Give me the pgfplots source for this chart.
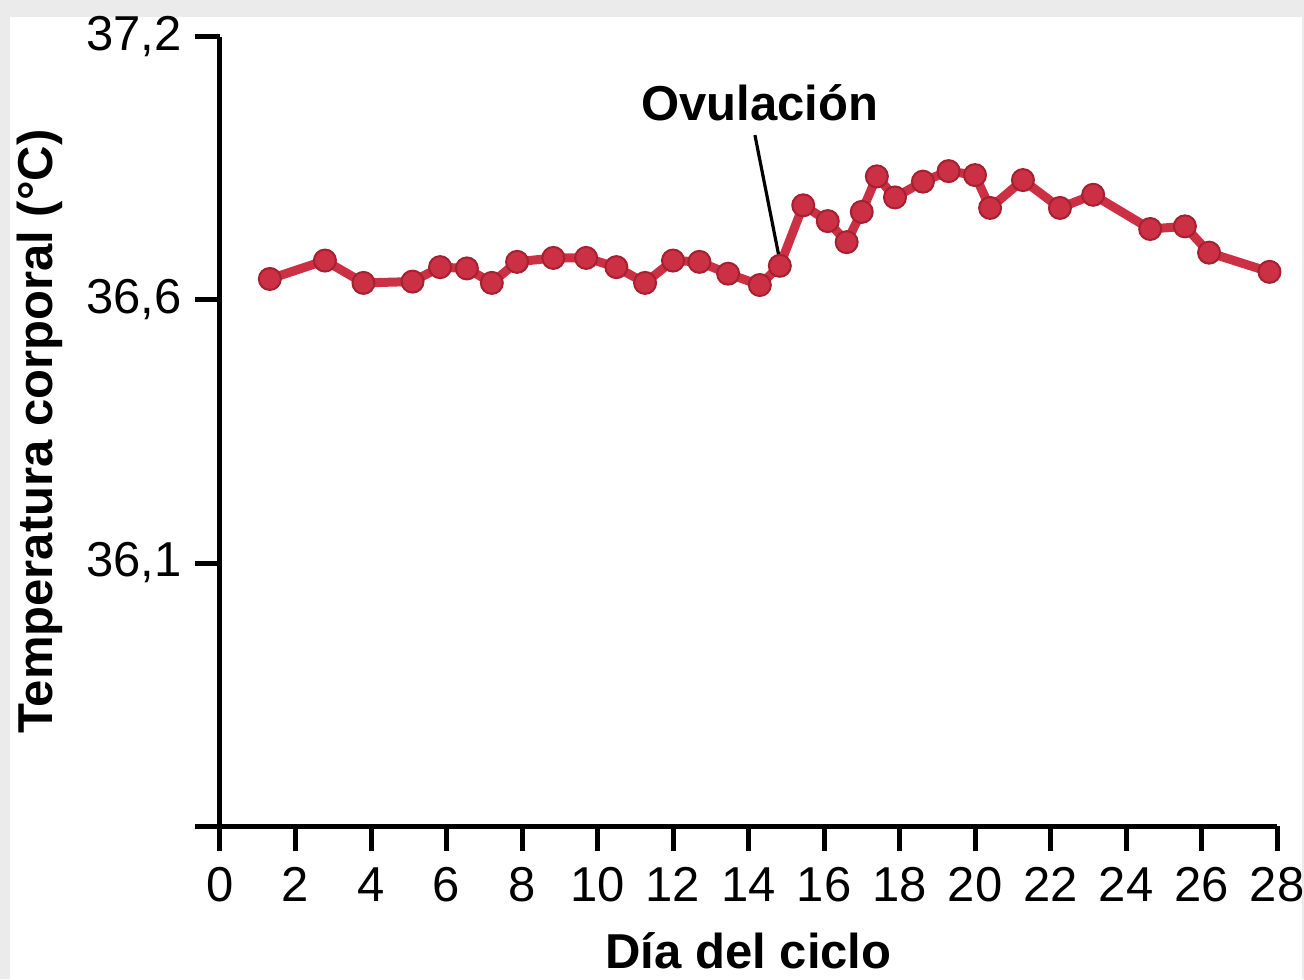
\documentclass[border=0pt]{standalone}
\usepackage{fontspec}
\setmainfont{Liberation Sans}
\usepackage{pgfplots}
\pgfplotsset{compat=1.18}
\definecolor{crim}{RGB}{204,48,68}
\definecolor{crimdark}{RGB}{165,32,48}
\definecolor{bggray}{RGB}{235,235,235}
\begin{document}
\fontsize{24.5pt}{29pt}\selectfont
\begin{tikzpicture}
\useasboundingbox (-110pt,-76.5pt) rectangle (542pt,413pt);
\fill[bggray] (-110pt,-76.5pt) rectangle (542pt,413pt);
\fill[white] (-105pt,-76.5pt) rectangle (541pt,404.5pt);
\begin{axis}[
  at={(0,0)}, anchor=south west,
  scale only axis,
  width=528.5pt, height=394.5pt,
  xmin=0, xmax=28, ymin=96, ymax=99,
  axis lines=left,
  axis line style={line width=2.5pt, -},
  every tick/.style={black, line width=2.5pt},
  tick align=outside,
  major tick length=12.5pt,
  xtick={0,2,...,28},
  ytick={96,97,98,99},
  yticklabels={{},{36,1},{36,6},{37,2}},
  /pgf/number format/assume math mode=true,
  tick label style={font=\fontsize{24.5pt}{29pt}\selectfont, inner sep=0pt},
  xticklabel style={anchor=north, yshift=-8pt},
  yticklabel style={anchor=east, xshift=-6.5pt},
  clip=false,
]
\addplot[color=crim, line width=4.5pt, line join=round,
  mark=*, mark size=5.5pt,
  mark options={fill=crim, draw=crimdark, line width=1pt}]
coordinates {
(1.32,98.08) (2.78,98.15) (3.80,98.065) (5.10,98.07) (5.83,98.125)
(6.54,98.12) (7.20,98.065) (7.87,98.145) (8.83,98.16) (9.70,98.16)
(10.50,98.125) (11.26,98.065) (12.00,98.15) (12.70,98.145) (13.46,98.10)
(14.30,98.057) (14.83,98.13) (15.45,98.36) (16.10,98.30) (16.60,98.22)
(17.00,98.335) (17.40,98.47) (17.88,98.39) (18.62,98.45) (19.30,98.49)
(20.00,98.475) (20.40,98.35) (21.27,98.456) (22.25,98.35) (23.13,98.40)
(24.64,98.27) (25.56,98.28) (26.20,98.18) (27.80,98.107)
};
\draw[black, line width=1.6pt] (axis cs:14.17,98.627) -- (axis cs:14.81,98.163);
\node[font=\bfseries\fontsize{24.5pt}{29pt}\selectfont, inner sep=0pt] at (axis cs:14.3,98.75) {Ovulación};
\end{axis}
\node[font=\bfseries\fontsize{24.5pt}{29pt}\selectfont, inner sep=0pt, anchor=base] at (264.25pt,-71pt) {Día del ciclo};
\node[font=\bfseries\fontsize{24.5pt}{29pt}\selectfont, inner sep=0pt, anchor=base, rotate=90] at (-83.5pt,197.25pt) {Temperatura corporal (°C)};
\end{tikzpicture}
\end{document}
